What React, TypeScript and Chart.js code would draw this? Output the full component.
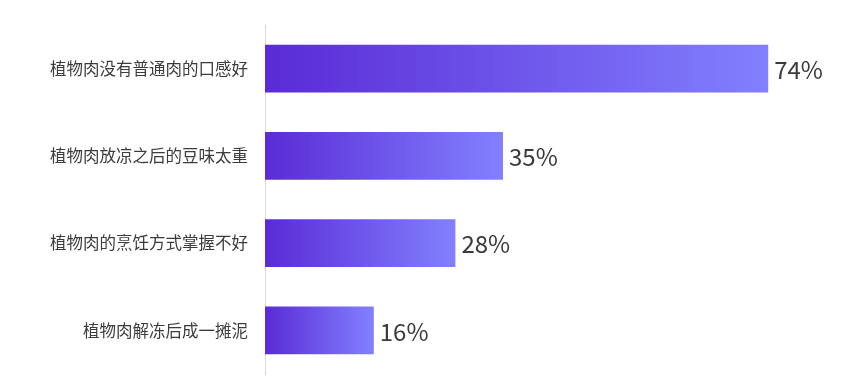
import React, { useEffect, useRef } from "react";
import { Chart, registerables } from "chart.js";

Chart.register(...registerables);

const categories = [
  "植物肉没有普通肉的口感好",
  "植物肉放凉之后的豆味太重",
  "植物肉的烹饪方式掌握不好",
  "植物肉解冻后成一摊泥",
];
const values = [74, 35, 28, 16];
const valueLabels = ["74%", "35%", "28%", "16%"];

const CJK = '"Noto Sans CJK SC", "Noto Sans", sans-serif';

const valueLabelPlugin = {
  id: "valueLabels",
  afterDatasetsDraw(chart: any) {
    const ctx = chart.ctx;
    const meta = chart.getDatasetMeta(0);
    ctx.save();
    ctx.font = `24px ${CJK}`;
    ctx.fillStyle = "#3a3a3a";
    ctx.textAlign = "left";
    ctx.textBaseline = "middle";
    meta.data.forEach((el: any, i: number) => {
      ctx.fillText(valueLabels[i], el.x + 6, el.y + 1);
    });
    ctx.restore();
  },
};

export default function App() {
  const ref = useRef<HTMLCanvasElement | null>(null);
  useEffect(() => {
    if (!ref.current) return;
    const chart = new Chart(ref.current, {
      type: "bar",
      data: {
        labels: categories,
        datasets: [
          {
            data: values,
            barPercentage: 0.55,
            categoryPercentage: 1,
            backgroundColor: (c: any) => {
              const ch = c.chart;
              const xs = ch.scales && ch.scales.x;
              if (!ch.chartArea || !xs || c.raw === undefined) return "#6a55f0";
              const x0 = xs.getPixelForValue(0);
              const x1 = xs.getPixelForValue(c.raw);
              const g = ch.ctx.createLinearGradient(x0, 0, x1, 0);
              g.addColorStop(0, "#5a2bd6");
              g.addColorStop(1, "#8280ff");
              return g;
            },
            borderWidth: 0,
          },
        ],
      },
      options: {
        indexAxis: "y",
        animation: false,
        responsive: false,
        maintainAspectRatio: false,
        devicePixelRatio: 1,
        layout: { padding: { left: 0, right: 56, top: 25, bottom: 9 } },
        plugins: {
          legend: { display: false },
          tooltip: { enabled: false },
        },
        scales: {
          x: {
            display: false,
            min: 0,
            max: 80,
          },
          y: {
            afterFit: (s: any) => {
              s.width = 265;
              s.paddingTop = 0;
              s.paddingBottom = 0;
            },
            grid: { display: false, drawTicks: false },
            border: { display: true, color: "#d9d9d9", width: 1 },
            ticks: {
              padding: 17,
              color: "#3c3c3c",
              font: { family: CJK, size: 16.5 },
            },
          },
        },
      },
      plugins: [valueLabelPlugin],
    });
    return () => chart.destroy();
  }, []);
  return (
    <div
      style={{
        position: "absolute",
        left: 0,
        top: 0,
        width: 865,
        height: 383,
        background: "#fff",
      }}
    >
      <canvas ref={ref} width={865} height={383} style={{ display: "block", width: 865, height: 383 }} />
    </div>
  );
}
